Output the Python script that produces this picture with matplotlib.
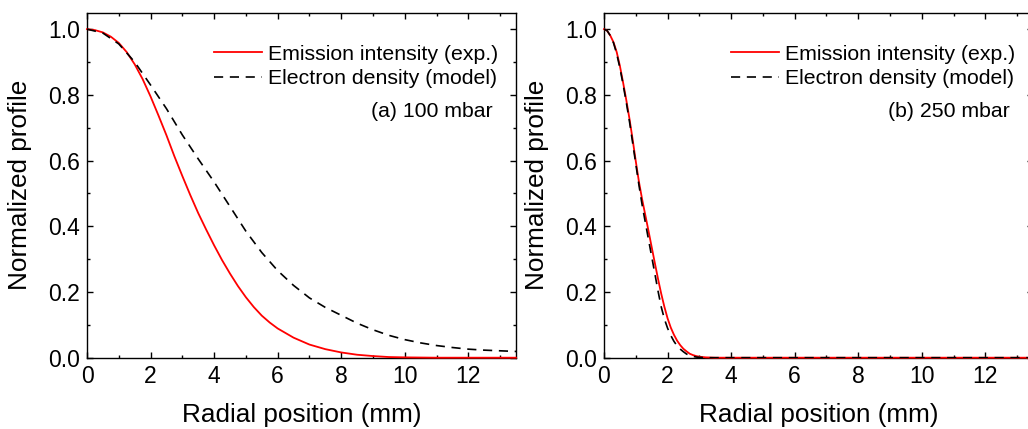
import matplotlib
matplotlib.use('Agg')
import matplotlib.pyplot as plt
from matplotlib.ticker import MultipleLocator, FormatStrFormatter

plt.rcParams['font.family'] = ['Liberation Sans', 'DejaVu Sans']

# Panel (a) 100 mbar
x_a_red = [0, 0.25, 0.5, 0.75, 1, 1.25, 1.5, 1.75, 2, 2.25, 2.5, 2.75, 3, 3.25, 3.5, 3.75, 4, 4.25,
           4.5, 4.75, 5, 5.25, 5.5, 5.75, 6, 6.5, 7, 7.5, 8, 8.5, 9, 9.5, 10, 11, 12, 13.5]
y_a_red = [1.0, 0.997, 0.99, 0.977, 0.958, 0.93, 0.893, 0.848, 0.795, 0.737, 0.677, 0.613, 0.553,
           0.495, 0.44, 0.39, 0.342, 0.297, 0.256, 0.218, 0.184, 0.154, 0.128, 0.107, 0.089, 0.061,
           0.04, 0.026, 0.016, 0.009, 0.005, 0.002, 0.001, 0.0, 0.0, 0.0]
x_a_dash = [0, 0.5, 1, 1.5, 2, 2.5, 3, 3.5, 4, 4.5, 5, 5.5, 6, 6.5, 7, 7.5, 8, 8.5, 9, 9.5, 10,
            10.5, 11, 11.5, 12, 12.5, 13, 13.5]
y_a_dash = [1.0, 0.988, 0.955, 0.90, 0.83, 0.758, 0.678, 0.605, 0.535, 0.46, 0.385, 0.32, 0.265,
            0.22, 0.182, 0.153, 0.129, 0.105, 0.085, 0.068, 0.055, 0.045, 0.037, 0.031, 0.026,
            0.023, 0.021, 0.019]

# Panel (b) 250 mbar
x_b = [0, 0.1, 0.2, 0.3, 0.4, 0.5, 0.6, 0.7, 0.8, 0.9, 1.0, 1.1, 1.2, 1.3, 1.4, 1.5, 1.6, 1.7,
       1.8, 1.9, 2.0, 2.1, 2.2, 2.3, 2.4, 2.5, 2.6, 2.7, 2.8, 2.9, 3.0, 3.2, 3.5, 13.6]
y_b_red = [1.0, 0.995, 0.98, 0.96, 0.93, 0.888, 0.838, 0.785, 0.728, 0.665, 0.598, 0.535, 0.482,
           0.434, 0.386, 0.337, 0.288, 0.24, 0.195, 0.155, 0.12, 0.092, 0.07, 0.052, 0.038, 0.027,
           0.019, 0.012, 0.008, 0.005, 0.003, 0.001, 0.0, 0.0]
y_b_dash = [1.0, 0.995, 0.98, 0.958, 0.925, 0.882, 0.832, 0.778, 0.72, 0.655, 0.59, 0.525, 0.465,
            0.412, 0.36, 0.308, 0.256, 0.203, 0.155, 0.118, 0.09, 0.068, 0.05, 0.036, 0.026, 0.018,
            0.011, 0.007, 0.004, 0.002, 0.001, 0.0, 0.0, 0.0]

labels = ['Emission intensity (exp.)', 'Electron density (model)']
panel_text = ['(a) 100 mbar', '(b) 250 mbar']

fig = plt.figure(figsize=(10.28, 4.29), dpi=100)
ax1 = fig.add_axes([87 / 1028, 71.3 / 429, 429 / 1028, 345 / 429])
ax2 = fig.add_axes([604 / 1028, 71.3 / 429, 429 / 1028, 345 / 429])

panels = [(ax1, x_a_red, y_a_red, x_a_dash, y_a_dash, panel_text[0]),
          (ax2, x_b, y_b_red, x_b, y_b_dash, panel_text[1])]

for ax, xr, yr, xd, yd, txt in panels:
    ax.plot(xr, yr, color='#ff0000', lw=1.3, label=labels[0], zorder=3, clip_on=False)
    ax.plot(xd, yd, color='black', lw=1.2, dashes=(5.5, 4), label=labels[1], zorder=4)
    ax.set_xlim(0, 13.5)
    ax.set_ylim(0, 1.05)
    ax.xaxis.set_major_locator(MultipleLocator(2))
    ax.xaxis.set_minor_locator(MultipleLocator(1))
    ax.yaxis.set_major_locator(MultipleLocator(0.2))
    ax.yaxis.set_minor_locator(MultipleLocator(0.1))
    ax.yaxis.set_major_formatter(FormatStrFormatter('%.1f'))
    ax.tick_params(which='both', direction='in', top=True, right=True, labelsize=16.5, width=1)
    ax.tick_params(which='major', length=4.5, pad=5)
    ax.tick_params(which='minor', length=2.5)
    for s in ax.spines.values():
        s.set_linewidth(1)
    ax.set_xlabel('Radial position (mm)', fontsize=18.8, labelpad=11)
    ax.set_ylabel('Normalized profile', fontsize=18.8, labelpad=12)
    ax.legend(loc='upper right', bbox_to_anchor=(0.958, 0.907), frameon=False, fontsize=15.3,
              handlelength=2.26, handletextpad=0.28, labelspacing=0.25, borderaxespad=0,
              borderpad=0)
    ax.text(0.946, 0.715, txt, transform=ax.transAxes, ha='right', va='center', fontsize=15.3)

fig.savefig('out.png', dpi=100)
